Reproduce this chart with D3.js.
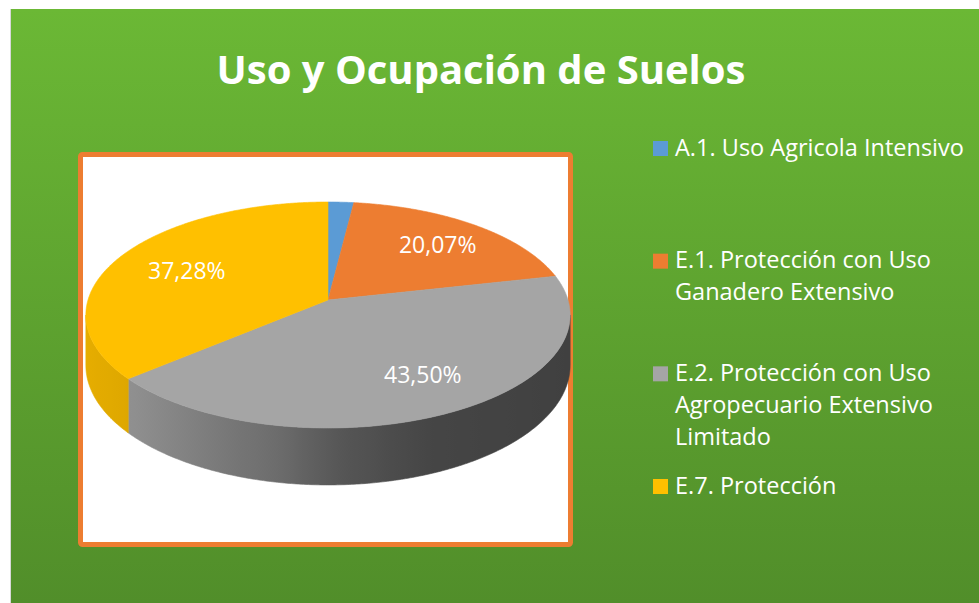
<!DOCTYPE html>
<html>
<head>
<meta charset="utf-8">
<script src="https://cdn.jsdelivr.net/npm/d3@7"></script>
<style>
  body { margin: 0; background: #fff; }
  svg { display: block; }
</style>
</head>
<body>
<div id="chart"></div>
<script>
// data
const categories = [
  "A.1. Uso Agricola Intensivo",
  "E.1. Protección con Uso Ganadero Extensivo",
  "E.2. Protección con Uso Agropecuario Extensivo Limitado",
  "E.7. Protección"
];
const values = [2.0, 20.07, 43.50, 37.28];
const showLabel = [false, true, true, true];
const colors = ["#5b9bd5", "#ed7d31", "#a5a5a5", "#ffc000"];
const title = "Uso y Ocupación de Suelos";

const width = 979, height = 603;
const font = "'Open Sans', sans-serif";

const svg = d3.select("#chart").append("svg")
    .attr("width", width)
    .attr("height", height)
    .attr("viewBox", [0, 0, width, height]);

const defs = svg.append("defs");
const bg = defs.append("linearGradient").attr("id", "bg")
    .attr("x1", 0).attr("y1", 0).attr("x2", 0).attr("y2", 1);
bg.append("stop").attr("offset", 0).attr("stop-color", "#6bb835");
bg.append("stop").attr("offset", 1).attr("stop-color", "#518e2a");

// green slide background
svg.append("rect")
    .attr("x", 10).attr("y", 9)
    .attr("width", width - 10).attr("height", height - 9)
    .attr("fill", "#d8d8d8");
svg.append("rect")
    .attr("x", 11).attr("y", 9)
    .attr("width", width - 11).attr("height", height - 9)
    .attr("fill", "url(#bg)");

svg.append("text")
    .attr("x", 481).attr("y", 84)
    .attr("text-anchor", "middle")
    .attr("font-family", font)
    .attr("font-weight", 700)
    .attr("font-size", 40)
    .attr("fill", "#fff")
    .text(title);

// white plot box with orange frame
svg.append("rect")
    .attr("x", 80.5).attr("y", 154.5)
    .attr("width", 490).attr("height", 390)
    .attr("rx", 2)
    .attr("fill", "#fff")
    .attr("stroke", "#ed7d31")
    .attr("stroke-width", 5);

// 3D pie in simple perspective
const cx = 328, cy = 300, rx = 240, ry = 111, depth = 49.4, persp = 0.1327;
function project(theta, r, z) {
  const u = r * Math.sin(theta), v = -r * Math.cos(theta);
  const k = 1 - persp * v;
  return [cx + rx * u / k, cy + (ry * v + depth * z) / k];
}

const pie = d3.pie().sort(null).value(d => d)(values);

// lighting of the side wall, by screen x
const shade = d3.scaleLinear()
    .domain([86, 130, 280, 340, 430, 570])
    .range([0.9, 0.87, 0.65, 0.52, 0.42, 0.39])
    .clamp(true);

pie.forEach((d, i) => {
  const g = defs.append("linearGradient").attr("id", "side" + i)
      .attr("gradientUnits", "userSpaceOnUse")
      .attr("x1", 86).attr("x2", 570).attr("y1", 0).attr("y2", 0);
  const base = d3.rgb(colors[i]);
  d3.range(86, 571, 12).forEach(x => {
    const f = shade(x);
    g.append("stop")
        .attr("offset", (x - 86) / 484)
        .attr("stop-color", d3.rgb(base.r * f, base.g * f, base.b * f).formatHex());
  });
});

const lo = Math.PI / 2 + Math.asin(persp), hi = 3 * Math.PI / 2 - Math.asin(persp);
const step = Math.PI / 360;

function arcPoints(a0, a1, r, z) {
  const n = Math.max(2, Math.ceil((a1 - a0) / step));
  return d3.range(n + 1).map(j => project(a0 + (a1 - a0) * j / n, r, z));
}

// side walls
svg.append("g").selectAll("path")
  .data(pie.filter(d => d.endAngle > lo && d.startAngle < hi))
  .join("path")
    .attr("fill", d => `url(#side${d.index})`)
    .attr("stroke", d => `url(#side${d.index})`)
    .attr("stroke-width", 0.6)
    .attr("d", d => {
      const a0 = Math.max(d.startAngle, lo), a1 = Math.min(d.endAngle, hi);
      const pts = arcPoints(a0, a1, 1, 0).concat(arcPoints(a0, a1, 1, 1).reverse());
      return d3.line()(pts) + "Z";
    });

// top faces
svg.append("g").selectAll("path")
  .data(pie)
  .join("path")
    .attr("fill", d => colors[d.index])
    .attr("stroke", d => colors[d.index])
    .attr("stroke-width", 0.6)
    .attr("d", d => d3.line()([project(0, 0, 0)].concat(arcPoints(d.startAngle, d.endAngle, 1, 0))) + "Z");

// data labels
const fmt = d3.formatLocale({decimal: ",", thousands: ".", grouping: [3], currency: ["", ""]}).format(".2f");
svg.append("g")
    .attr("font-family", font)
    .attr("font-size", 23)
    .attr("fill", "#fff")
    .attr("text-anchor", "middle")
  .selectAll("text")
  .data(pie.filter(d => showLabel[d.index]))
  .join("text")
    .attr("transform", d => {
      const [x, y] = project((d.startAngle + d.endAngle) / 2 - 0.03, 0.7, 0);
      return `translate(${x + 8},${y})`;
    })
    .attr("dy", "0.35em")
    .text(d => fmt(d.data) + "%");

// legend
const legendY = d3.scaleLinear([0, categories.length - 1], [141, 479]);
const lineH = 32, maxW = 300;
const item = svg.append("g")
    .attr("font-family", font)
    .attr("font-size", 23.5)
    .attr("fill", "#fff")
  .selectAll("g")
  .data(categories)
  .join("g")
    .attr("transform", (d, i) => `translate(653,${legendY(i)})`);

item.append("rect")
    .attr("width", 15).attr("height", 15)
    .attr("fill", (d, i) => colors[i]);

item.append("text")
    .attr("x", 22)
    .attr("y", 14.5)
    .each(function(d) {
      const t = d3.select(this);
      const words = d.split(" ");
      let line = [], tsp = t.append("tspan").attr("x", 22).attr("dy", 0);
      words.forEach(w => {
        line.push(w);
        tsp.text(line.join(" "));
        if (tsp.node().getComputedTextLength() > maxW && line.length > 1) {
          line.pop();
          tsp.text(line.join(" "));
          line = [w];
          tsp = t.append("tspan").attr("x", 22).attr("dy", lineH).text(w);
        }
      });
    });
</script>
</body>
</html>
